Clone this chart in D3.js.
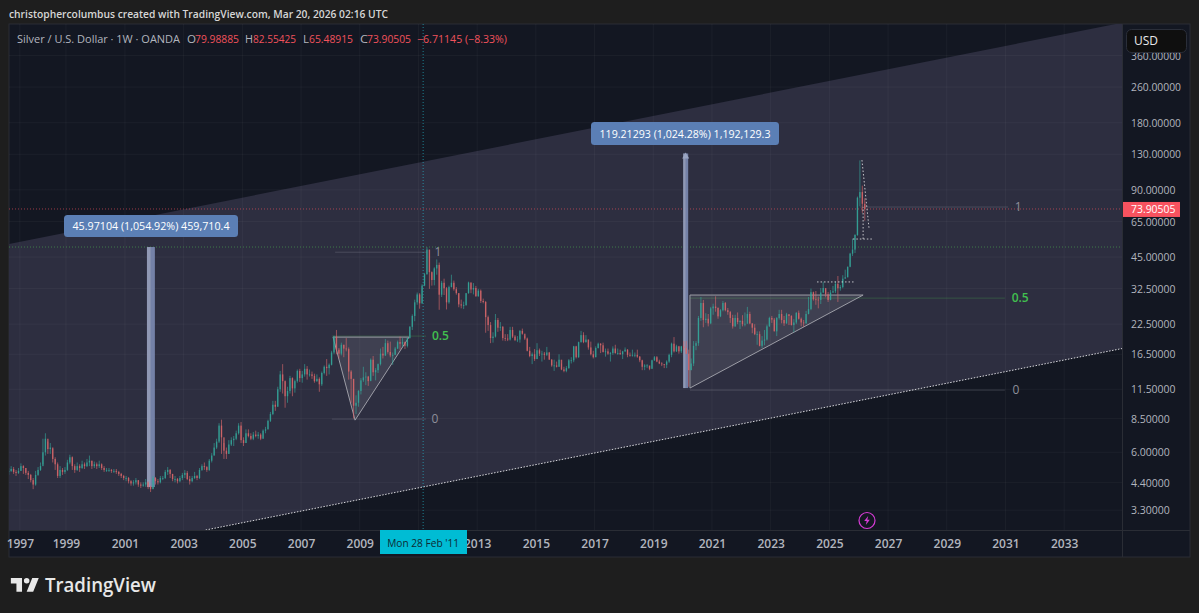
<!DOCTYPE html>
<html><head><meta charset="utf-8">
<script src="https://cdn.jsdelivr.net/npm/d3@7/dist/d3.min.js"></script>
<style>html,body{margin:0;padding:0;background:#1e1e1e;overflow:hidden}svg{display:block}text{font-family:"Open Sans","Noto Sans",sans-serif}</style>
</head><body><svg id="c" width="1199" height="613"></svg>
<script>
const startYear = 1997;
const closes = [
4.95,5.05,4.9,4.85,4.95,5.2,5.1,4.85,4.75,4.5,4.3,4.75,
5.0,5.2,6.0,6.9,6.2,6.3,5.6,5.3,4.7,5.0,4.9,5.0,
5.4,5.7,5.2,5.0,5.2,5.1,5.3,5.2,5.4,5.5,5.2,5.3,
5.2,5.3,5.1,5.0,5.0,5.0,4.95,4.95,4.9,4.8,4.7,4.6,
4.6,4.45,4.35,4.4,4.5,4.3,4.25,4.3,4.4,4.2,4.1,4.6,
4.45,4.4,4.6,4.6,4.9,5.0,4.8,4.55,4.55,4.45,4.6,4.75,
4.85,4.55,4.45,4.6,4.7,4.6,5.0,5.2,5.15,5.0,5.5,5.8,
6.3,6.7,7.9,7.0,6.1,5.9,6.5,6.8,6.9,7.3,7.9,6.8,
6.6,7.3,7.1,6.9,7.2,7.1,7.2,6.9,7.5,7.6,8.3,8.9,
9.8,9.6,11.5,13.4,12.5,10.7,11.3,12.9,11.6,12.5,13.9,12.9,
13.4,14.2,13.4,13.4,13.2,12.5,12.8,12.1,13.6,14.5,14.3,14.8,
16.8,19.8,17.3,16.6,18.2,17.5,17.4,13.8,12.8,9.7,10.0,11.3,
12.6,13.0,13.1,12.5,15.6,13.7,14.0,14.9,16.6,16.3,18.5,16.9,
16.3,16.4,17.5,18.7,18.4,18.7,18.0,19.5,21.9,24.5,28.2,30.6,
27.9,33.5,37.7,48.6,38.5,35.5,40.0,41.5,30.5,34.5,32.6,28.2,
33.0,34.5,32.3,31.0,27.6,27.3,27.4,31.0,34.6,32.2,32.7,30.0,
31.8,28.6,28.3,24.2,22.3,19.5,19.8,23.5,21.7,21.9,19.5,19.4,
19.2,21.2,19.8,19.1,19.2,21.0,20.4,19.4,17.1,16.2,16.5,15.7,
17.2,16.6,16.6,16.4,16.8,15.6,14.7,14.7,14.5,15.6,14.1,13.9,
14.3,15.5,15.5,17.9,16.0,18.7,20.1,18.7,19.2,17.7,16.5,16.0,
17.6,18.4,18.1,16.9,17.0,16.6,16.7,17.5,16.7,16.7,16.5,17.0,
17.3,16.4,16.3,16.4,16.4,16.1,15.5,14.5,14.7,14.7,14.2,15.5,
16.0,15.3,15.0,14.9,14.8,15.3,16.4,18.4,17.0,17.9,17.0,17.9,
17.6,16.6,14.0,15.0,18.0,18.5,24.0,28.0,23.5,23.8,22.7,26.5,
27.0,26.6,24.4,26.0,28.0,26.0,25.5,24.0,22.0,24.0,23.0,23.3,
22.5,22.6,25.0,22.7,21.7,20.3,20.3,18.0,19.0,19.2,22.0,24.0,
23.6,20.9,24.0,25.0,23.5,22.7,24.9,24.5,22.3,22.9,25.3,23.8,
22.9,22.7,25.0,26.3,31.3,29.1,29.0,28.9,31.2,32.7,30.6,28.9,
31.2,31.6,34.1,32.6,33.0,36.0,36.5,40.7,46.6,48.6,56.5,83.0,
88.0,78.0,73.90505];
const highs = [
5.1,5.2,5.15,5.0,5.1,5.35,5.25,5.1,4.95,4.8,4.6,4.95,
5.15,5.4,6.9,7.3,6.7,6.6,6.2,5.7,5.4,5.2,5.1,5.15,
5.55,5.85,5.75,5.3,5.4,5.3,5.5,5.4,5.6,5.8,5.5,5.45,
5.4,5.5,5.35,5.2,5.1,5.1,5.05,5.05,5.05,4.95,4.85,4.75,
4.7,4.65,4.5,4.5,4.6,4.5,4.4,4.4,4.55,4.45,4.25,4.7,
4.65,4.55,4.7,4.7,5.0,5.15,5.05,4.8,4.7,4.6,4.7,4.85,
5.0,4.95,4.7,4.7,4.9,4.75,5.1,5.3,5.4,5.2,5.6,5.95,
6.6,6.9,8.1,8.4,6.6,6.3,6.8,7.0,7.1,7.5,8.1,8.2,
7.0,7.6,7.6,7.3,7.4,7.5,7.4,7.3,7.6,7.8,8.4,9.1,
10.2,10.2,11.8,13.9,14.9,12.6,11.8,13.2,13.0,12.7,14.1,14.2,
13.9,14.9,14.6,14.1,13.8,13.5,13.4,13.0,13.8,14.7,15.7,15.0,
17.1,20.0,21.2,17.6,18.6,18.2,19.5,17.7,14.0,12.8,10.8,11.4,
12.9,14.5,13.7,13.2,15.8,16.2,14.3,15.0,17.5,17.8,19.3,19.0,
18.8,16.8,17.8,19.0,19.8,19.5,18.8,19.6,22.1,24.9,29.0,31.2,
31.0,34.0,38.2,49.8,48.5,38.8,40.5,43.9,42.5,35.2,36.0,33.0,
33.5,37.5,35.3,33.0,31.0,29.0,28.4,31.0,34.9,34.6,34.4,33.4,
32.4,32.2,29.3,28.6,24.6,23.0,20.7,25.0,24.0,23.0,22.1,20.3,
20.3,21.9,21.9,20.1,19.9,21.2,21.5,20.0,19.6,17.8,16.8,17.4,
18.5,17.5,17.1,16.9,17.8,16.9,15.7,15.6,15.3,16.5,15.0,14.5,
14.6,15.7,16.0,18.0,18.0,18.8,21.0,20.7,20.1,19.2,18.8,17.1,
17.9,18.6,18.5,18.6,17.5,17.5,16.9,17.9,18.2,17.5,17.3,17.1,
17.7,17.4,16.8,17.3,16.8,17.3,16.2,15.6,14.9,14.9,14.6,15.6,
16.2,16.2,15.6,15.2,14.9,15.5,16.6,18.6,19.7,18.2,18.0,18.0,
18.9,18.9,17.3,15.8,18.9,18.9,24.5,29.8,28.9,25.2,25.0,26.9,
27.8,30.0,26.8,26.3,28.6,28.3,26.6,25.8,24.8,24.8,25.4,23.4,
24.7,25.4,26.9,25.6,22.7,22.5,20.9,20.9,19.9,21.2,22.4,24.3,
24.5,24.0,24.2,26.1,26.1,24.5,25.3,25.0,24.7,23.7,25.5,25.9,
24.1,23.5,25.8,29.8,32.5,31.5,31.7,29.9,32.7,34.9,32.3,31.4,
32.0,33.4,34.9,37.0,33.7,37.3,39.5,40.8,47.0,54.4,57.0,84.0,
122.0,94.0,82.55425];
const lows = [
4.75,4.9,4.8,4.7,4.8,4.95,4.8,4.75,4.55,4.4,4.1,4.25,
4.7,4.95,5.3,5.8,5.9,5.9,5.4,5.0,4.6,4.6,4.75,4.8,
4.95,5.3,5.0,4.85,4.95,4.9,5.05,5.05,5.15,5.2,5.05,5.1,
5.05,5.1,5.0,4.9,4.9,4.9,4.85,4.85,4.8,4.7,4.6,4.5,
4.45,4.35,4.25,4.25,4.3,4.2,4.15,4.2,4.2,4.1,3.98,4.1,
4.3,4.3,4.35,4.5,4.55,4.75,4.6,4.45,4.4,4.35,4.4,4.5,
4.6,4.5,4.3,4.4,4.55,4.5,4.55,4.95,5.0,4.9,4.95,5.4,
5.8,6.2,6.6,5.9,5.6,5.6,5.9,6.4,6.4,6.8,7.2,6.6,
6.4,6.6,7.0,6.8,6.8,7.0,6.9,6.8,6.9,7.3,7.6,8.2,
8.8,9.2,9.6,11.2,11.0,9.5,10.0,11.0,10.7,11.1,12.3,12.4,
12.3,13.1,12.7,13.1,12.8,12.3,12.4,11.2,11.9,13.4,13.2,13.4,
14.7,16.5,16.5,15.8,16.3,16.0,17.0,12.7,10.0,8.5,8.9,9.6,
10.9,12.4,12.0,11.9,12.6,13.2,12.6,13.6,14.7,15.8,16.2,16.6,
16.0,14.8,16.4,17.4,17.3,17.8,17.4,17.7,19.4,21.2,23.2,27.5,
26.4,27.8,33.3,37.5,32.4,33.5,33.6,37.5,26.1,29.8,30.4,26.2,
27.8,32.9,31.8,30.5,26.8,26.5,26.3,27.2,30.8,31.0,30.6,29.9,
29.9,28.0,27.9,20.6,21.0,18.5,18.6,19.6,20.8,21.0,19.0,18.9,
18.9,19.0,19.5,18.9,18.7,18.6,20.2,19.1,17.0,16.0,14.9,15.4,
15.7,16.2,15.3,15.6,16.2,15.6,14.5,13.9,14.4,14.5,14.0,13.7,
13.7,14.2,15.0,15.2,15.8,15.9,18.6,18.5,18.6,17.3,16.3,15.8,
16.0,17.5,16.7,16.8,16.1,16.4,15.3,16.4,16.6,16.4,16.4,15.7,
16.9,16.0,16.1,16.1,16.0,15.9,15.2,14.0,14.0,14.3,14.0,14.2,
15.4,15.2,14.9,14.6,14.3,14.3,15.1,16.0,16.8,16.9,16.6,16.7,
17.2,16.5,11.8,14.0,14.6,17.2,18.0,23.3,21.8,22.8,22.0,22.5,
24.8,25.6,23.8,24.2,25.7,25.7,24.8,22.8,21.5,21.9,22.5,21.4,
22.0,22.0,24.0,22.5,20.5,20.1,18.2,17.9,17.6,18.1,19.0,21.9,
22.8,20.9,19.9,23.6,22.7,22.1,22.6,22.3,22.2,20.7,22.5,23.6,
22.0,21.9,22.6,24.9,26.0,28.7,27.5,26.5,27.7,31.0,29.7,28.3,
28.8,31.1,31.0,28.3,31.8,32.6,36.0,36.5,40.5,45.5,46.9,56.0,
76.0,71.0,65.48915];
const priceTicks = [360,260,180,130,90,65,45,32.5,22.5,16.5,11.5,8.5,6,4.4,3.3];
const yearTicks = [1997.42,1998.99,2001,2003,2005,2007,2009,2011,2013,2015,2017,2019,2021,2023,2025,2027,2029,2031,2033];
const crosshairDate = 2011.16;
const lastPrice = 73.90505;
const resistancePrice = 49.9;
const channelUpper = [[1997.05,51.5],[2034.97,505]];
const channelLower = [[2003.75,2.69],[2034.97,17.5]];
const measures = [
 {from:2001.75,to:2002.02,low:4.19,high:49.9,label:"45.97104 (1,054.92%) 459,710.4"},
 {from:2020.02,to:2020.19,low:11.64,high:131,label:"119.21293 (1,024.28%) 1,192,129.3"}];
const triangles = [
 [[2008.09,19.7],[2008.84,8.36],[2010.68,19.7]],
 [[2020.25,11.64],[2020.25,30.4],[2026.15,30.4]]];
const fibLevels = [
 {from:2008.05,to:2011.26,price:8.45,label:"0",at:2011.56,color:"#8d8f9a"},
 {from:2008.05,to:2011.26,price:19.9,label:"0.5",at:2011.75,color:"#4caf50"},
 {from:2008.16,to:2011.3,price:47.3,label:"1",at:2011.66,color:"#8d8f9a"},
 {from:2020.25,to:2030.98,price:11.4,label:"0",at:2031.36,color:"#8d8f9a"},
 {from:2020.25,to:2030.98,price:29.45,label:"0.5",at:2031.5,color:"#4caf50"},
 {from:2026.04,to:2031.09,price:75.4,label:"1",at:2031.43,color:"#8d8f9a"}];
const dashSegments = [
 [[2024.58,34.8],[2025.87,34.8]],
 [[2025.80,54.2],[2026.45,54.2]],
 [[2026.15,54.2],[2026.15,75.4]],
 [[2026.11,122.4],[2026.35,60.7]]];

const svg=d3.select("#c");
const L=9,R=1122,T=24,B=530,AR=1190,AB=557;
const x=d3.scaleLinear().domain([1997.05,2034.97]).range([L,R]);
const y=d3.scaleLog().domain([498.6,2.69]).range([T,B]);
const defs=svg.append("defs");
defs.append("clipPath").attr("id","plot").append("rect").attr("x",L).attr("y",T).attr("width",R-L).attr("height",B-T);
defs.append("clipPath").attr("id","pa").append("rect").attr("x",R).attr("y",52).attr("width",AR-R).attr("height",B-52);
const pt=d=>[x(d[0]),y(d[1])];

svg.append("rect").attr("width",1199).attr("height",613).attr("fill","#1e1e1e");
svg.append("rect").attr("x",L).attr("y",T).attr("width",AR-L).attr("height",AB-T).attr("fill","#131722").attr("stroke","#2a2d35").attr("stroke-width",1);

const plot=svg.append("g").attr("clip-path","url(#plot)");
const band=[channelUpper[0],channelUpper[1],channelLower[1],channelLower[0],[1997.05,2.69]];
plot.append("polygon").attr("points",band.map(d=>pt(d).join(",")).join(" ")).attr("fill","#2d2e40");

// grid
plot.append("g").selectAll("line").data(priceTicks).join("line")
 .attr("x1",L).attr("x2",R).attr("y1",d=>y(d)).attr("y2",d=>y(d)).attr("stroke","#fff").attr("stroke-opacity",.04);
plot.append("g").selectAll("line").data(yearTicks).join("line")
 .attr("y1",T).attr("y2",B).attr("x1",d=>x(d)).attr("x2",d=>x(d)).attr("stroke","#fff").attr("stroke-opacity",.04);

// fibs
const fg=plot.append("g");
fg.selectAll("line").data(fibLevels).join("line")
 .attr("x1",d=>x(d.from)).attr("x2",d=>x(d.to)).attr("y1",d=>y(d.price)).attr("y2",d=>y(d.price))
 .attr("stroke",d=>d.color).attr("stroke-opacity",.3).attr("stroke-width",1);

// triangles
plot.append("g").selectAll("polygon").data(triangles).join("polygon")
 .attr("points",t=>t.map(d=>pt(d).join(",")).join(" "))
 .attr("fill","#fff").attr("fill-opacity",.09).attr("stroke","#9c9da6").attr("stroke-width",1);

// horizontal full lines
plot.append("line").attr("x1",L).attr("x2",R).attr("y1",y(resistancePrice)).attr("y2",y(resistancePrice))
 .attr("stroke","#4caf50").attr("stroke-opacity",.6).attr("stroke-dasharray","1 2");
plot.append("line").attr("x1",L).attr("x2",R).attr("y1",y(lastPrice)).attr("y2",y(lastPrice))
 .attr("stroke","#f7525f").attr("stroke-opacity",.6).attr("stroke-dasharray","1 2");

// channel lower dotted
plot.append("line").attr("x1",x(channelLower[0][0])).attr("y1",y(channelLower[0][1])).attr("x2",x(channelLower[1][0])).attr("y2",y(channelLower[1][1]))
 .attr("stroke","#d8d8dc").attr("stroke-dasharray","1.5 1.5");

// crosshair
plot.append("line").attr("x1",x(crosshairDate)).attr("x2",x(crosshairDate)).attr("y1",T).attr("y2",B)
 .attr("stroke","#26c6da").attr("stroke-opacity",.6).attr("stroke-dasharray","1 2");

// measure bars
measures.forEach(m=>{
 const g=plot.append("g");
 g.append("rect").attr("x",x(m.from)).attr("y",y(m.high)).attr("width",x(m.to)-x(m.from)).attr("height",y(m.low)-y(m.high)).attr("fill","#7c8bb3").attr("fill-opacity",.9);
 g.append("rect").attr("x",x(m.from)).attr("y",y(m.high)).attr("width",(x(m.to)-x(m.from))*.45).attr("height",y(m.low)-y(m.high)).attr("fill","#a3a9bd").attr("fill-opacity",.6);
});

// candles
const upC="#35a79b",downC="#d9686a";
const candles=closes.map((c,i)=>({t:startYear+i/12+.04,o:i?closes[i-1]:c,c,h:highs[i],l:lows[i]}));
const cg=plot.append("g");
cg.selectAll("line").data(candles).join("line")
 .attr("x1",d=>x(d.t)).attr("x2",d=>x(d.t)).attr("y1",d=>y(d.h)).attr("y2",d=>y(d.l))
 .attr("stroke",d=>d.c>=d.o?upC:downC).attr("stroke-opacity",.7).attr("stroke-width",.9);
cg.selectAll("rect").data(candles).join("rect")
 .attr("x",d=>x(d.t)-.7).attr("width",1.4)
 .attr("y",d=>y(Math.max(d.o,d.c))).attr("height",d=>Math.max(.8,Math.abs(y(d.o)-y(d.c))))
 .attr("fill",d=>d.c>=d.o?upC:downC).attr("fill-opacity",.8);

// dashed white segments
plot.append("g").selectAll("line").data(dashSegments).join("line")
 .attr("x1",d=>x(d[0][0])).attr("y1",d=>y(d[0][1])).attr("x2",d=>x(d[1][0])).attr("y2",d=>y(d[1][1]))
 .attr("stroke","#e8e8ea").attr("stroke-opacity",.8).attr("stroke-dasharray","1.5 2");

// fib labels
fg.selectAll("text").data(fibLevels).join("text")
 .attr("x",d=>x(d.at)).attr("y",d=>y(d.price)+4).attr("text-anchor","middle")
 .attr("font-size",12).attr("font-weight",d=>d.color==="#4caf50"?600:400).attr("fill",d=>d.color==="#4caf50"?"#41c04f":"#8d8f9a").text(d=>d.label);

// arrow on 2nd bar
const m2=measures[1];
plot.append("path").attr("d",`M${x(m2.from)-1},${y(m2.high)+5}L${(x(m2.from)+x(m2.to))/2},${y(m2.high)-1}L${x(m2.to)+1},${y(m2.high)+5}Z`).attr("fill","#9aa5c2");

// measure labels
const boxes=[[64,215,174,22],[591,122,188,23]];
measures.forEach((m,i)=>{
 const b=boxes[i];
 plot.append("rect").attr("x",b[0]).attr("y",b[1]).attr("width",b[2]).attr("height",b[3]).attr("rx",3.5).attr("fill","#5b7fb5");
 plot.append("text").attr("x",b[0]+b[2]/2).attr("y",b[1]+b[3]/2+4).attr("text-anchor","middle").attr("font-size",11).attr("fill","#fff")
  .attr("textLength",b[2]-17).attr("lengthAdjust","spacingAndGlyphs").text(m.label);
});

// bolt icon
const bolt=svg.append("g").attr("transform","translate(867,520.5)");
bolt.append("circle").attr("r",8).attr("fill","none").attr("stroke","#d63bd6").attr("stroke-width",1.2);
bolt.append("path").attr("d","M1.2,-4.5L-2.8,0.6H-0.3L-1.2,4.5L2.8,-0.8H0.3Z").attr("fill","#d63bd6");

// axes panels border
svg.append("line").attr("x1",R+.5).attr("x2",R+.5).attr("y1",T).attr("y2",AB).attr("stroke","#2a2d35");
svg.append("line").attr("x1",L).attr("x2",AR).attr("y1",B+.5).attr("y2",B+.5).attr("stroke","#2a2d35");

// y axis
const yClip=svg.append("g").attr("clip-path","url(#pa)");
const ya=yClip.append("g").attr("transform",`translate(${R},0)`)
 .call(d3.axisRight(y).tickValues(priceTicks).tickFormat(d3.format(".5f")).tickSize(0).tickPadding(9));
ya.select(".domain").remove();
ya.selectAll("text").attr("font-size",11.5).attr("fill","#b2b5be")
 .attr("textLength",function(){return this.textContent.length*5.55;}).attr("lengthAdjust","spacingAndGlyphs");

// x axis (the crosshair label stands where 2011 would be)
const xa=svg.append("g").attr("transform",`translate(0,${B})`)
 .call(d3.axisBottom(x).tickValues(yearTicks.filter(d=>d<2034&&d!==2011)).tickFormat(d=>String(Math.round(d))).tickSize(0).tickPadding(9));
xa.select(".domain").remove();
xa.selectAll("text").attr("font-size",12).attr("fill","#b2b5be").attr("font-weight",600);

// crosshair label
svg.append("rect").attr("x",380).attr("y",530).attr("width",87).attr("height",24).attr("fill","#00bcd4");
svg.append("text").attr("x",x(crosshairDate)).attr("y",547).attr("text-anchor","middle").attr("font-size",11.5).attr("fill","#0e2a33")
 .attr("textLength",72).attr("lengthAdjust","spacingAndGlyphs").text("Mon 28 Feb '11");

// last price tag
svg.append("rect").attr("x",R+1).attr("y",y(lastPrice)-7).attr("width",57).attr("height",15).attr("fill","#f7525f");
svg.append("text").attr("x",R+9).attr("y",y(lastPrice)+4).attr("font-size",11.5).attr("fill","#fff")
 .attr("textLength",44.4).attr("lengthAdjust","spacingAndGlyphs").text("73.90505");

// USD button
svg.append("rect").attr("x",1126.5).attr("y",29.5).attr("width",60).attr("height",23).attr("rx",5).attr("fill","#0f0f0f").attr("stroke","#2a2e39");
svg.append("text").attr("x",1134).attr("y",45).attr("font-size",12).attr("fill","#e8e8ea").text("USD");

// header
svg.append("text").attr("x",9).attr("y",18).attr("font-size",11.5).attr("font-weight",600).attr("fill","#d6d6d6")
 .attr("textLength",379).attr("lengthAdjust","spacingAndGlyphs").text("christophercolumbus created with TradingView.com, Mar 20, 2026 02:16 UTC");

// legend
const leg=[["Silver / U.S. Dollar · 1W · OANDA",17,163,"#b2b5be"],["O",187,9,"#b2b5be"],["79.98885",195,44,"#f0525c"],["H",245,8,"#b2b5be"],["82.55425",253,43,"#f0525c"],["L",303,6,"#b2b5be"],["65.48915",309,44,"#f0525c"],["C",360,8,"#b2b5be"],["73.90505",367,44,"#f0525c"],["−6.71145 (−8.33%)",417,90,"#f0525c"]];
svg.append("g").selectAll("text").data(leg).join("text").attr("x",d=>d[1]).attr("y",43).attr("font-size",11)
 .attr("fill",d=>d[3]).attr("textLength",d=>d[2]).attr("lengthAdjust","spacingAndGlyphs").text(d=>d[0]);

// logo
svg.append("path").attr("transform","translate(9,572.3) scale(0.93)").attr("d","M14 6H2v6h6v9h6V6Zm12 15h-7l6-15h7l-6 15Zm-7-9a3 3 0 1 0 0-6 3 3 0 0 0 0 6Z").attr("fill","#e8e8e8");
svg.append("text").attr("x",45).attr("y",592).attr("font-family","Inter").attr("font-weight",600).attr("font-size",20).attr("fill","#e8e8e8")
 .attr("textLength",111).attr("lengthAdjust","spacingAndGlyphs").text("TradingView");
</script></body></html>
